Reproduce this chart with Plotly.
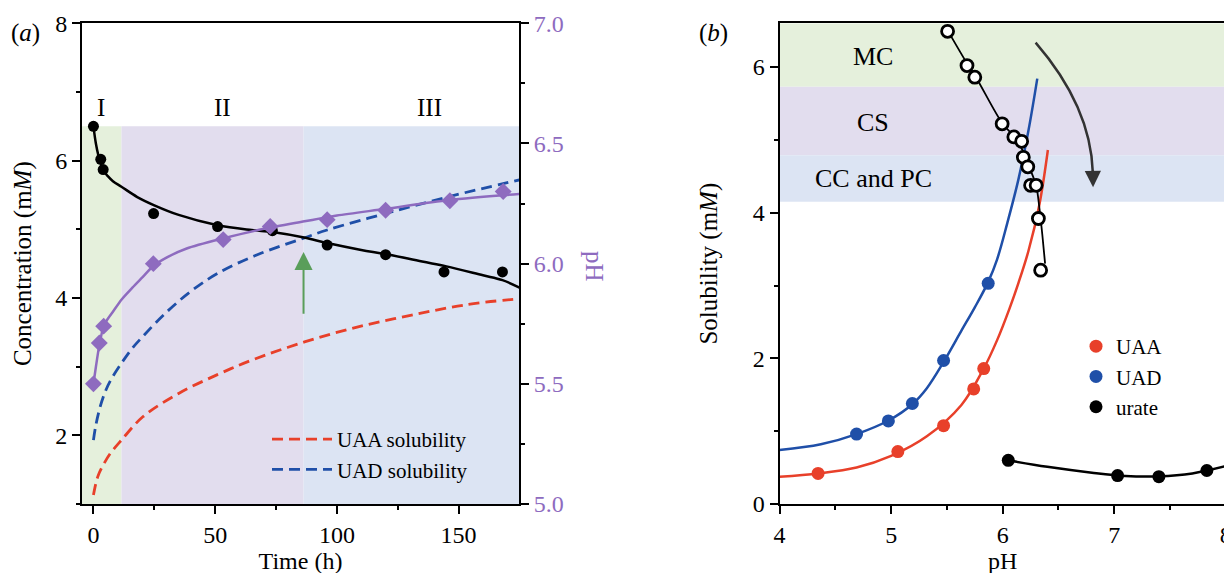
import plotly.graph_objects as go

# ---------------- Panel (a) data ----------------
time_pts = [0, 3, 4, 24.7, 51, 73.5, 96, 120, 144, 168]
conc_pts = [6.50, 6.02, 5.87, 5.23, 5.04, 4.98, 4.77, 4.63, 4.38, 4.38]

time_ph = [0, 2.4, 4.2, 24.6, 53.3, 72.6, 96, 120, 146.4, 168.3]
ph_pts = [5.50, 5.67, 5.74, 6.00, 6.10, 6.155, 6.183, 6.222, 6.262, 6.30]

fit_conc_t = [0, 1, 2, 3, 4, 6, 8, 11.5, 18, 25, 35, 51, 65, 73.5, 86.5, 96, 110, 120, 135, 145, 160, 168, 175]
fit_conc = [6.50, 6.25, 6.08, 5.96, 5.86, 5.77, 5.70, 5.62, 5.47, 5.35, 5.21, 5.06, 4.99, 4.96, 4.88, 4.80, 4.70, 4.64, 4.53, 4.46, 4.33, 4.26, 4.15]

fit_ph_t = [0, 1, 2.4, 4.2, 6, 8, 11.5, 16, 20.3, 24.6, 30, 38.3, 53.3, 70, 86.7, 100, 120, 146, 175]
fit_ph = [5.50, 5.57, 5.66, 5.74, 5.772, 5.80, 5.85, 5.90, 5.945, 5.99, 6.025, 6.063, 6.105, 6.145, 6.176, 6.20, 6.228, 6.265, 6.29]

uad_t = [0, 1, 2.8, 5, 7.2, 11.5, 16, 20.3, 29, 39.4, 51.1, 67.3, 86.3, 96, 120, 146.5, 175]
uad_sol = [1.93, 2.15, 2.42, 2.65, 2.81, 3.05, 3.27, 3.44, 3.76, 4.08, 4.36, 4.63, 4.87, 4.99, 5.23, 5.48, 5.72]

uaa_t = [0, 1, 2, 4.2, 7, 11.5, 20.3, 35, 50.7, 65.4, 86.7, 108.7, 130.7, 152.8, 175]
uaa_sol = [1.13, 1.30, 1.42, 1.58, 1.74, 1.93, 2.27, 2.61, 2.88, 3.10, 3.36, 3.58, 3.75, 3.90, 3.99]

stage_edges = [-4.7, 11.5, 86.3, 174.8]
stage_top = 6.5
stage_names = ["I", "II", "III"]
stage_label_t = [3, 53, 138]
stage_label_y = 6.78

arrow_t = 86.3
arrow_from, arrow_to = 3.75, 4.67

# ---------------- Panel (b) data ----------------
uaa_ph = [4.345, 5.06, 5.47, 5.74, 5.83]
uaa_s = [0.42, 0.72, 1.075, 1.58, 1.86]
uaa_fit_ph = [4.0, 4.35, 4.69, 5.0, 5.32, 5.63, 5.83, 5.95, 6.06, 6.14, 6.23, 6.33, 6.405]
uaa_fit_s = [0.375, 0.42, 0.50, 0.66, 0.93, 1.36, 1.86, 2.25, 2.68, 3.03, 3.47, 4.12, 4.86]

uad_ph = [4.69, 4.975, 5.19, 5.47, 5.87]
uad_s = [0.96, 1.14, 1.38, 1.97, 3.03]
uad_fit_ph = [4.0, 4.37, 4.69, 4.98, 5.19, 5.32, 5.47, 5.63, 5.75, 5.87, 5.95, 6.04, 6.14, 6.23, 6.31]
uad_fit_s = [0.74, 0.82, 0.96, 1.15, 1.37, 1.59, 1.95, 2.38, 2.70, 3.05, 3.36, 3.85, 4.45, 5.12, 5.84]

urate_ph = [6.05, 7.03, 7.40, 7.83]
urate_s = [0.60, 0.39, 0.375, 0.46]
urate_fit_ph = [6.05, 6.4, 6.8, 7.1, 7.4, 7.7, 8.0]
urate_fit_s = [0.60, 0.51, 0.43, 0.385, 0.38, 0.42, 0.52]

sol_ph = [5.506, 5.68, 5.75, 5.995, 6.10, 6.17, 6.185, 6.225, 6.25, 6.30, 6.32, 6.34]
sol_conc = [6.49, 6.02, 5.86, 5.22, 5.04, 4.98, 4.76, 4.63, 4.375, 4.375, 3.92, 3.21]
sol_line_ph = [5.50, 5.68, 5.76, 6.00, 6.10, 6.18, 6.24, 6.30, 6.33, 6.355, 6.38]
sol_line_c = [6.52, 6.05, 5.86, 5.22, 5.05, 4.85, 4.62, 4.37, 4.05, 3.70, 3.30]

band_edges = [6.6, 5.73, 4.79, 4.15]
band_names = ["MC", "CS", "CC and PC"]
band_label_ph = 4.84
band_label_y = [6.14, 5.24, 4.47]

# ---------------- styles / layout helpers ----------------
W, H, OFF = 1232, 573, 8  # page body margin offsets the figure by 8 px


def px(x):
    return (x - OFF) / W


def py(y):
    return 1 - (y - OFF) / H


FONT = "Liberation Serif"
RED = "#e8402a"
BLUE = "#1f4fa8"
PURPLE = "#8e6bbf"
GREEN_ARROW = "#5a9e5a"
fills = ["#e5f0dc", "#e2ddee", "#dce4f3"]
DASH = "11px,6px"

fig = go.Figure()

# Panel a traces
fig.add_trace(go.Scatter(x=uaa_t, y=uaa_sol, mode="lines", line=dict(color=RED, width=2.8, dash=DASH, shape="spline"),
                         name="UAA solubility", xaxis="x", yaxis="y", legend="legend"))
fig.add_trace(go.Scatter(x=uad_t, y=uad_sol, mode="lines", line=dict(color=BLUE, width=2.8, dash=DASH, shape="spline"),
                         name="UAD solubility", xaxis="x", yaxis="y", legend="legend"))
fig.add_trace(go.Scatter(x=fit_conc_t, y=fit_conc, mode="lines", line=dict(color="black", width=2.5, shape="spline"),
                         showlegend=False, xaxis="x", yaxis="y"))
fig.add_trace(go.Scatter(x=time_pts, y=conc_pts, mode="markers", marker=dict(color="black", size=11),
                         showlegend=False, xaxis="x", yaxis="y"))
fig.add_trace(go.Scatter(x=fit_ph_t, y=fit_ph, mode="lines", line=dict(color=PURPLE, width=2.5, shape="spline", smoothing=0.8),
                         showlegend=False, xaxis="x", yaxis="y2"))
fig.add_trace(go.Scatter(x=time_ph, y=ph_pts, mode="markers", marker=dict(color=PURPLE, size=13, symbol="diamond"),
                         showlegend=False, xaxis="x", yaxis="y2"))

# Panel b traces
fig.add_trace(go.Scatter(x=uaa_fit_ph, y=uaa_fit_s, mode="lines", line=dict(color=RED, width=2.5, shape="spline"),
                         showlegend=False, xaxis="x3", yaxis="y3"))
fig.add_trace(go.Scatter(x=uad_fit_ph, y=uad_fit_s, mode="lines", line=dict(color=BLUE, width=2.5, shape="spline"),
                         showlegend=False, xaxis="x3", yaxis="y3"))
fig.add_trace(go.Scatter(x=urate_fit_ph, y=urate_fit_s, mode="lines", line=dict(color="black", width=2.5, shape="spline"),
                         showlegend=False, xaxis="x3", yaxis="y3"))
fig.add_trace(go.Scatter(x=sol_line_ph, y=sol_line_c, mode="lines", line=dict(color="black", width=1.8, shape="spline"),
                         showlegend=False, xaxis="x3", yaxis="y3"))
fig.add_trace(go.Scatter(x=uaa_ph, y=uaa_s, mode="markers", marker=dict(color=RED, size=13), name="UAA",
                         xaxis="x3", yaxis="y3", legend="legend2"))
fig.add_trace(go.Scatter(x=uad_ph, y=uad_s, mode="markers", marker=dict(color=BLUE, size=13), name="UAD",
                         xaxis="x3", yaxis="y3", legend="legend2"))
fig.add_trace(go.Scatter(x=urate_ph, y=urate_s, mode="markers", marker=dict(color="black", size=13), name="urate",
                         xaxis="x3", yaxis="y3", legend="legend2"))
fig.add_trace(go.Scatter(x=sol_ph, y=sol_conc, mode="markers",
                         marker=dict(color="white", size=12, line=dict(color="black", width=2.8)),
                         showlegend=False, xaxis="x3", yaxis="y3"))

shapes = []
for i in range(3):
    shapes.append(dict(type="rect", xref="x", yref="y", x0=stage_edges[i], x1=stage_edges[i + 1],
                       y0=1, y1=stage_top, fillcolor=fills[i], line=dict(width=0), layer="below"))
for i in range(3):
    shapes.append(dict(type="rect", xref="x3 domain", yref="y3", x0=0, x1=1,
                       y0=band_edges[i + 1], y1=band_edges[i], fillcolor=fills[i], line=dict(width=0), layer="below"))
# curved arrow in panel b
shapes.append(dict(type="path", xref="x3", yref="y3", path="M 6.295 6.335 Q 6.79 5.46 6.808 4.55",
                   line=dict(color="#333333", width=2.5)))

annotations = []
for name, t in zip(stage_names, stage_label_t):
    annotations.append(dict(x=t, y=stage_label_y, xref="x", yref="y", text=name, showarrow=False,
                            font=dict(family=FONT, size=25, color="black")))
for name, y in zip(band_names, band_label_y):
    annotations.append(dict(x=band_label_ph, y=y, xref="x3", yref="y3", text=name, showarrow=False,
                            font=dict(family=FONT, size=26, color="black")))
annotations.append(dict(x=arrow_t, y=arrow_to, ax=arrow_t, ay=arrow_from, xref="x", yref="y", axref="x", ayref="y",
                        text="", showarrow=True, arrowhead=2, arrowsize=1.8, arrowwidth=2, arrowcolor=GREEN_ARROW))
annotations.append(dict(x=6.81, y=4.35, ax=6.808, ay=4.6, xref="x3", yref="y3", axref="x3", ayref="y3",
                        text="", showarrow=True, arrowhead=2, arrowsize=1.3, arrowwidth=2.5, arrowcolor="#333333"))
annotations.append(dict(x=px(25), y=py(33), xref="paper", yref="paper", xanchor="center", yanchor="middle",
                        text="(<i>a</i>)", showarrow=False, font=dict(family=FONT, size=25, color="black")))
annotations.append(dict(x=px(713), y=py(33), xref="paper", yref="paper", xanchor="center", yanchor="middle",
                        text="(<i>b</i>)", showarrow=False, font=dict(family=FONT, size=25, color="black")))
annotations.append(dict(x=px(594), y=py(266), xref="paper", yref="paper", xanchor="center", yanchor="middle",
                        text="pH", showarrow=False, textangle=90, font=dict(family=FONT, size=25, color=PURPLE)))

tickfont = dict(family=FONT, size=24, color="black")
titlefont = dict(family=FONT, size=25, color="black")
xtitlefont = dict(family=FONT, size=24, color="black")
common = dict(showgrid=False, zeroline=False, showline=True, linecolor="black", linewidth=2, automargin=False,
              ticks="outside", ticklen=8, tickwidth=1.5, tickcolor="black", tickfont=tickfont)
minor_style = dict(ticks="outside", ticklen=4, tickwidth=1.5, tickcolor="black")

ya = [py(504), py(23.3)]
fig.update_layout(
    width=W, height=H,
    margin=dict(l=0, r=0, t=0, b=0),
    paper_bgcolor="white", plot_bgcolor="rgba(0,0,0,0)",
    font=dict(family=FONT, color="black"),
    xaxis=dict(domain=[px(82), px(519)], range=[-4.7, 174.8], tickvals=[0, 50, 100, 150], mirror=True,
               minor=dict(dtick=25, **minor_style),
               title=dict(text="Time (h)", font=xtitlefont, standoff=2), anchor="y", **common),
    yaxis=dict(domain=ya, range=[1, 8], tickvals=[2, 4, 6, 8], anchor="x",
               minor=dict(dtick=1, **minor_style),
               title=dict(text="Concentration (m<i>M</i>)", font=titlefont, standoff=16), **common),
    yaxis2=dict(overlaying="y", side="right", range=[5, 7], tickvals=[5.0, 5.5, 6.0, 6.5, 7.0], tickformat=".1f",
                anchor="x", minor=dict(dtick=0.25, **minor_style),
                **{**common, "tickfont": dict(family=FONT, size=24, color=PURPLE)}),
    xaxis3=dict(domain=[px(779.6), px(1225.8)], range=[4, 8], dtick=1, mirror=True, anchor="y3",
                minor=dict(dtick=0.5, **minor_style),
                title=dict(text="pH", font=xtitlefont, standoff=2), **common),
    yaxis3=dict(domain=ya, range=[0, 6.6], tickvals=[0, 2, 4, 6], mirror=True, anchor="x3",
                minor=dict(dtick=1, **minor_style),
                title=dict(text="Solubility (m<i>M</i>)", font=titlefont, standoff=28), **common),
    legend=dict(x=px(267), y=py(419), xanchor="left", yanchor="top", bgcolor="rgba(0,0,0,0)",
                font=dict(family=FONT, size=21, color="black"), itemwidth=60),
    legend2=dict(x=px(1076), y=py(326), xanchor="left", yanchor="top", bgcolor="rgba(0,0,0,0)",
                 font=dict(family=FONT, size=21, color="black"), itemwidth=30),
    shapes=shapes,
    annotations=annotations,
)

fig.write_html("out.html")
